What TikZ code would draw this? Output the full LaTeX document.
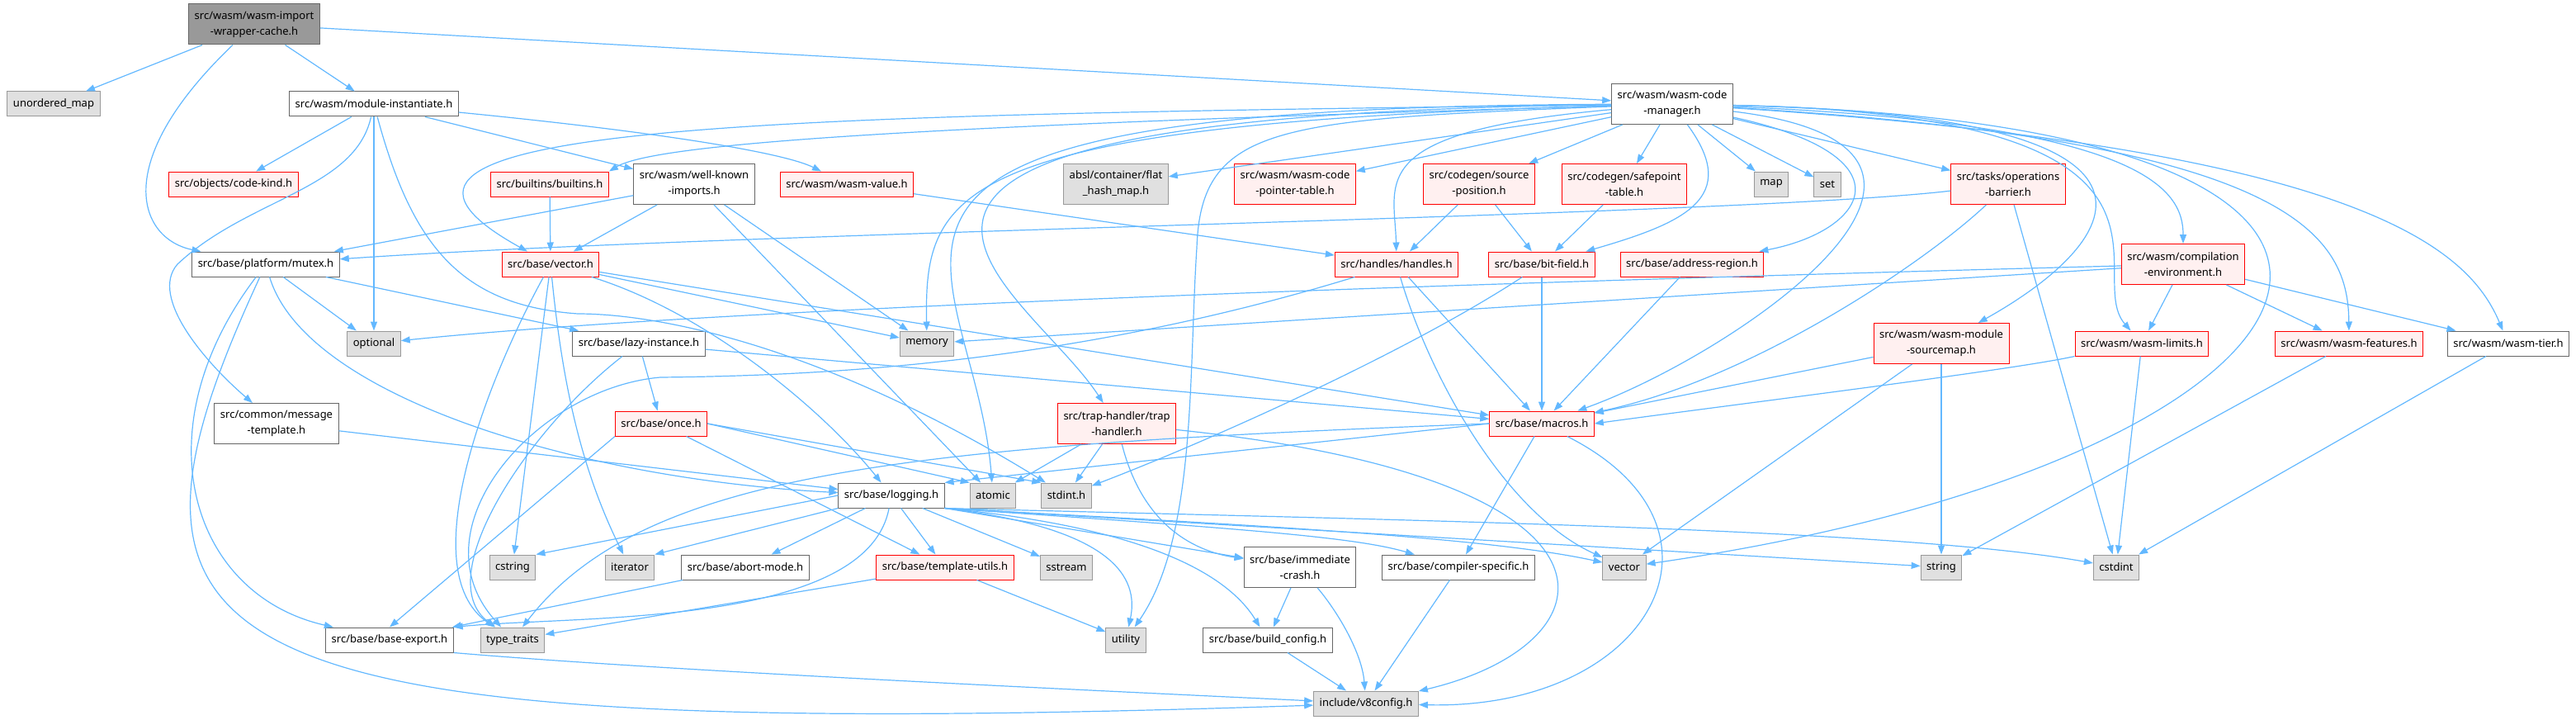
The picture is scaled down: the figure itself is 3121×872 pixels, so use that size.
\documentclass[tikz,border=0pt]{standalone}
\usepackage{fontspec}
\setmainfont{Noto Sans}
\usetikzlibrary{arrows.meta}
\definecolor{DoxEdge}{HTML}{63B8FF}
\definecolor{DoxGrayFill}{HTML}{E0E0E0}
\definecolor{DoxGrayLine}{HTML}{999999}
\definecolor{DoxDarkLine}{HTML}{666666}
\definecolor{DoxRedFill}{HTML}{FFF0F0}
\definecolor{DoxRedLine}{HTML}{FF0000}
\definecolor{DoxRootFill}{HTML}{999999}
\tikzset{
    % Box styles
    hdr/.style={
        rectangle,
        draw=DoxDarkLine,
        fill=white,
        line width=1pt,
        minimum height=30pt,
        inner xsep=7pt,
        inner ysep=2pt,
        align=center,
        font=\fontsize{13}{19}\selectfont
    },
    trunc/.style={hdr, draw=DoxRedLine, fill=DoxRedFill},
    sys/.style={hdr, draw=DoxGrayLine, fill=DoxGrayFill},
    root/.style={hdr, fill=DoxRootFill},
    two/.style={minimum height=49pt},
    % Arrow styles
    dep/.style={
        -{Triangle[length=11pt,width=8pt]},
        line width=1.2pt,
        draw=DoxEdge
    }
}
\begin{document}
\begin{tikzpicture}[x=1pt, y=-1pt]
    \useasboundingbox (0,0) rectangle (3121,872);

    \node[root, two] (wrapper) at (308,29.5) {src/wasm/wasm-import\\-wrapper-cache.h};

    \node[sys] (unordered) at (65,126) {unordered\_map};
    \node[hdr] (modinst) at (453,126) {src/wasm/module-instantiate.h};
    \node[hdr, two] (codemgr) at (2026,126) {src/wasm/wasm-code\\-manager.h};

    \node[trunc] (codekind) at (283,223) {src/objects/code-kind.h};
    \node[trunc] (builtins) at (666,223) {src/builtins/builtins.h};
    \node[hdr, two] (wellknown) at (841,223) {src/wasm/well-known\\-imports.h};
    \node[trunc] (wasmvalue) at (1026,223) {src/wasm/wasm-value.h};
    \node[sys, two] (flathash) at (1352,223) {absl/container/flat\\\_hash\_map.h};
    \node[trunc, two] (cptable) at (1569,223) {src/wasm/wasm-code\\-pointer-table.h};
    \node[trunc, two] (srcpos) at (1792,223) {src/codegen/source\\-position.h};
    \node[trunc, two] (safepoint) at (1968,223) {src/codegen/safepoint\\-table.h};
    \node[sys] (stdmap) at (2146,223) {map};
    \node[sys] (stdset) at (2214,223) {set};
    \node[trunc, two] (barrier) at (2433,223) {src/tasks/operations\\-barrier.h};

    \node[hdr] (mutex) at (322,320) {src/base/platform/mutex.h};
    \node[trunc] (vectorh) at (667,320) {src/base/vector.h};
    \node[trunc] (handles) at (1692,320) {src/handles/handles.h};
    \node[trunc] (bitfield) at (1868,320) {src/base/bit-field.h};
    \node[trunc] (addrregion) at (2050,320) {src/base/address-region.h};
    \node[trunc, two] (compenv) at (2645,320) {src/wasm/compilation\\-environment.h};

    \node[sys] (optional) at (453,416) {optional};
    \node[hdr] (lazy) at (774,416) {src/base/lazy-instance.h};
    \node[sys] (memory) at (1123,416) {memory};
    \node[trunc, two] (sourcemap) at (2352,416) {src/wasm/wasm-module\\-sourcemap.h};
    \node[trunc] (limits) at (2595,416) {src/wasm/wasm-limits.h};
    \node[trunc] (features) at (2846,416) {src/wasm/wasm-features.h};
    \node[hdr] (tier) at (3039,416) {src/wasm/wasm-tier.h};

    \node[hdr, two] (msgtmpl) at (335,513) {src/common/message\\-template.h};
    \node[trunc] (once) at (801,513) {src/base/once.h};
    \node[trunc, two] (traphandler) at (1353,513) {src/trap-handler/trap\\-handler.h};
    \node[trunc] (macros) at (1868,513) {src/base/macros.h};

    \node[hdr] (logging) at (1080,600) {src/base/logging.h};
    \node[sys] (atomic) at (1203,600) {atomic};
    \node[sys] (stdint) at (1292,600) {stdint.h};

    \node[sys] (cstring) at (621,687) {cstring};
    \node[sys] (iterator) at (763,687) {iterator};
    \node[hdr] (abortmode) at (903,687) {src/base/abort-mode.h};
    \node[trunc] (templutils) at (1145,687) {src/base/template-utils.h};
    \node[sys] (sstream) at (1292,687) {sstream};
    \node[hdr, two] (immcrash) at (1575,687) {src/base/immediate\\-crash.h};
    \node[hdr] (compspec) at (1767,687) {src/base/compiler-specific.h};
    \node[sys] (stdvector) at (1968,687) {vector};
    \node[sys] (stdstring) at (2352,687) {string};
    \node[sys] (cstdint) at (2564,687) {cstdint};

    \node[hdr] (baseexport) at (472,775) {src/base/base-export.h};
    \node[sys] (typetraits) at (621,775) {type\_traits};
    \node[sys] (utility) at (1364,775) {utility};
    \node[hdr] (buildconfig) at (1536,775) {src/base/build\_config.h};

    \node[sys] (v8config) at (1655,852) {include/v8config.h};

    % top file
    \draw[dep] (wrapper) -- (unordered);
    \draw[dep] (wrapper) -- (modinst);
    \draw[dep] (wrapper) .. controls (130,200) and (170,290) .. (mutex);
    \draw[dep] (wrapper) -- (codemgr);

    % module-instantiate
    \draw[dep] (modinst) -- (codekind);
    \draw[dep] (modinst) -- (optional);
    \draw[dep] (modinst) -- (wellknown);
    \draw[dep] (modinst) .. controls (800,160) and (950,185) .. (wasmvalue);
    \draw[dep] (modinst) .. controls (430,230) and (300,240) .. (215,320) .. controls (180,360) and (250,440) .. (msgtmpl);
    \draw[dep] (modinst) .. controls (500,300) and (560,370) .. (700,380) .. controls (800,380) and (1000,420) .. (stdint);

    % wasm-code-manager
    \draw[dep] (codemgr) -- (cptable);
    \draw[dep] (codemgr) -- (srcpos);
    \draw[dep] (codemgr) -- (safepoint);
    \draw[dep] (codemgr) -- (stdmap);
    \draw[dep] (codemgr) -- (stdset);
    \draw[dep] (codemgr) -- (barrier);
    \draw[dep] (codemgr) -- (flathash);
    \draw[dep] (codemgr) .. controls (1200,150) and (800,170) .. (builtins.north east);
    \draw[dep] (codemgr) .. controls (900,140) and (360,150) .. (vectorh);
    \draw[dep] (codemgr) .. controls (1150,150) and (1120,230) .. (memory);
    \draw[dep] (codemgr) .. controls (900,130) and (1180,300) .. (atomic);
    \draw[dep] (codemgr) .. controls (850,140) and (1240,340) .. (traphandler);
    \draw[dep] (codemgr) .. controls (1550,145) and (1455,150) .. (1450,300) .. controls (1440,450) and (1450,650) .. (utility);
    \draw[dep] (codemgr) .. controls (1650,160) and (1690,220) .. (handles);
    \draw[dep] (codemgr) .. controls (2110,240) and (2040,270) .. (bitfield);
    \draw[dep] (codemgr) .. controls (2320,190) and (2260,280) .. (addrregion);
    \draw[dep] (codemgr) .. controls (2470,180) and (2100,430) .. (macros);
    \draw[dep] (codemgr) .. controls (2700,140) and (2560,300) .. (sourcemap);
    \draw[dep] (codemgr) .. controls (2700,140) and (2520,330) .. (limits);
    \draw[dep] (codemgr) .. controls (2600,150) and (2645,230) .. (compenv);
    \draw[dep] (codemgr) .. controls (3100,150) and (2850,560) .. (stdvector);
    \draw[dep] (codemgr) .. controls (2770,170) and (2845,280) .. (features);
    \draw[dep] (codemgr) .. controls (2860,180) and (2990,300) .. (tier);

    % second row
    \draw[dep] (builtins) -- (vectorh);
    \draw[dep] (wellknown) -- (mutex);
    \draw[dep] (wellknown) -- (vectorh);
    \draw[dep] (wellknown) -- (atomic);
    \draw[dep] (wellknown) -- (memory);
    \draw[dep] (wasmvalue) -- (handles);
    \draw[dep] (srcpos) -- (handles);
    \draw[dep] (srcpos) -- (bitfield);
    \draw[dep] (safepoint) -- (bitfield);
    \draw[dep] (barrier) .. controls (2100,262) and (900,280) .. (mutex);
    \draw[dep] (barrier) .. controls (2330,320) and (2120,460) .. (macros);
    \draw[dep] (barrier) -- (cstdint);

    % third row
    \draw[dep] (mutex) -- (optional);
    \draw[dep] (mutex) -- (lazy);
    \draw[dep] (mutex) .. controls (370,480) and (700,580) .. (logging);
    \draw[dep] (mutex) .. controls (170,520) and (230,720) .. (baseexport);
    \draw[dep] (mutex) .. controls (100,800) and (220,900) .. (v8config);
    \draw[dep] (vectorh) -- (memory);
    \draw[dep] (vectorh) -- (macros);
    \draw[dep] (vectorh) .. controls (860,380) and (1000,500) .. (logging);
    \draw[dep] (vectorh) .. controls (590,460) and (500,690) .. (typetraits);
    \draw[dep] (vectorh) -- (cstring);
    \draw[dep] (vectorh) .. controls (680,450) and (700,560) .. (iterator);
    \draw[dep] (handles) -- (macros);
    \draw[dep] (handles) .. controls (1730,450) and (1820,620) .. (stdvector);
    \draw[dep] (handles) .. controls (1300,440) and (1000,455) .. (800,457) .. controls (650,470) and (500,640) .. (typetraits);
    \draw[dep] (bitfield) -- (macros);
    \draw[dep] (bitfield) .. controls (1700,430) and (1450,540) .. (stdint);
    \draw[dep] (addrregion) -- (macros);
    \draw[dep] (compenv) .. controls (1500,350) and (800,380) .. (optional);
    \draw[dep] (compenv) -- (memory);
    \draw[dep] (compenv) -- (limits);
    \draw[dep] (compenv) -- (features);
    \draw[dep] (compenv) -- (tier);

    % fourth and fifth rows
    \draw[dep] (lazy) -- (once);
    \draw[dep] (lazy) -- (macros);
    \draw[dep] (lazy) .. controls (640,520) and (520,700) .. (typetraits);
    \draw[dep] (sourcemap) -- (macros);
    \draw[dep] (sourcemap) -- (stdvector);
    \draw[dep] (sourcemap) -- (stdstring);
    \draw[dep] (limits.south west) .. controls (2440,448) and (2100,490) .. (macros.east);
    \draw[dep] (limits) -- (cstdint);
    \draw[dep] (features) -- (stdstring);
    \draw[dep] (tier) -- (cstdint);
    \draw[dep] (msgtmpl) -- (logging);
    \draw[dep] (once.east) -- (atomic.north west);
    \draw[dep] (once.east) -- (stdint.north west);
    \draw[dep] (once) -- (templutils);
    \draw[dep] (once.south west) -- (baseexport.north);
    \draw[dep] (traphandler) -- (atomic);
    \draw[dep] (traphandler) -- (stdint);
    \draw[dep] (traphandler) .. controls (1380,620) and (1430,665) .. (immcrash);
    \draw[dep] (traphandler) .. controls (2000,580) and (1960,780) .. (v8config);
    \draw[dep] (macros.west) -- (logging.north east);
    \draw[dep] (macros.west) .. controls (1100,540) and (780,570) .. (typetraits);
    \draw[dep] (macros) -- (compspec);
    \draw[dep] (macros) .. controls (2120,640) and (2000,860) .. (v8config);

    % logging
    \draw[dep] (logging.west) -- (cstring.north east);
    \draw[dep] (logging.south west) -- (iterator.north east);
    \draw[dep] (logging) -- (abortmode);
    \draw[dep] (logging) .. controls (1050,760) and (700,745) .. (baseexport.north east);
    \draw[dep] (logging) -- (templutils);
    \draw[dep] (logging) -- (sstream);
    \draw[dep] (logging.south east) .. controls (1350,640) and (1380,700) .. (utility);
    \draw[dep] (logging.south east) .. controls (1400,640) and (1490,700) .. (buildconfig);
    \draw[dep] (logging.south east) -- (immcrash);
    \draw[dep] (logging.south east) .. controls (1500,640) and (1640,650) .. (compspec);
    \draw[dep] (logging.south east) .. controls (1500,635) and (1800,650) .. (stdvector);
    \draw[dep] (logging.south east) -- (stdstring);
    \draw[dep] (logging.south east) .. controls (1700,630) and (2300,640) .. (cstdint);

    % bottom rows
    \draw[dep] (abortmode) -- (baseexport);
    \draw[dep] (templutils) -- (typetraits);
    \draw[dep] (templutils) -- (utility);
    \draw[dep] (immcrash) -- (buildconfig);
    \draw[dep] (immcrash) .. controls (1620,740) and (1650,790) .. (v8config);
    \draw[dep] (compspec) -- (v8config);
    \draw[dep] (buildconfig) -- (v8config);
    \draw[dep] (baseexport.south east) .. controls (800,812) and (1300,835) .. (v8config);
\end{tikzpicture}
\end{document}
